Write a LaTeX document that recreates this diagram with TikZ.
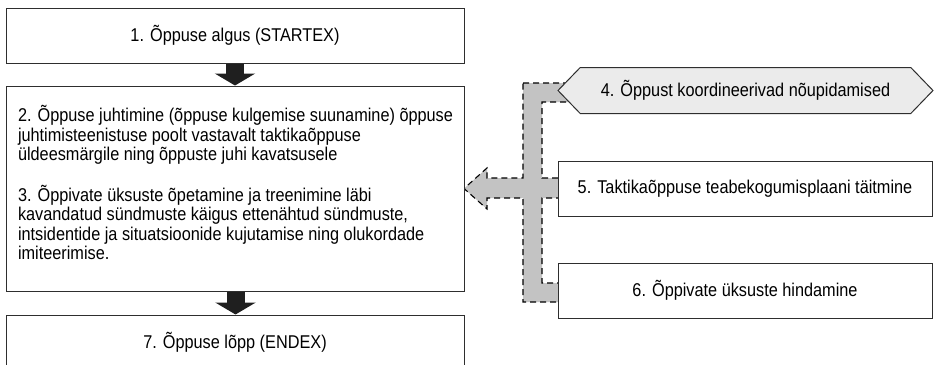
\documentclass[tikz,border=0pt]{standalone}
\usepackage{fontspec}
\setmainfont{Liberation Sans}[FakeStretch=0.88]
\usetikzlibrary{shapes.symbols, arrows.meta}
\definecolor{boxline}{HTML}{2E2E2E}
\definecolor{hexfill}{HTML}{EBEBEB}
\definecolor{linkfill}{HTML}{C3C3C3}
\tikzstyle{box}=[draw=boxline, line width=1pt, fill=white, inner sep=0pt, font=\fontsize{18.5}{19.5}\selectfont]
\tikzstyle{phase}=[box, minimum width=458pt, minimum height=55pt]
\tikzstyle{task}=[box, minimum width=374pt, minimum height=55pt]
\tikzstyle{flow}=[line width=18pt, draw=black!88, -{Triangle[width=40pt, length=12pt]}]

\begin{document}
\begin{tikzpicture}[x=1pt, y=-1pt]
\useasboundingbox (0,0) rectangle (934,364);
% Grey link
    \draw[fill=linkfill, line width=1.1pt, dash pattern=on 6pt off 4pt]
        (523,83) -- (570,83) -- (570,102) -- (542,102) -- (542,178) -- (562,178) -- (562,198)
        -- (542,198) -- (542,283) -- (562,283) -- (562,302) -- (523,302) -- (523,198)
        -- (487,198) -- (487,209) -- (464,188.5) -- (487,168) -- (487,178) -- (523,178) -- cycle;
% Main steps
    \node[phase] (start) at (235,35.5) {1. Õppuse algus (STARTEX)};
    \node[phase, minimum height=205pt, align=left] (lead) at (235.5,188.5)
        {2. Õppuse juhtimine (õppuse kulgemise suunamine) õppuse\\
         juhtimisteenistuse poolt vastavalt taktikaõppuse\\
         üldeesmärgile ning õppuste juhi kavatsusele\\[19.5pt]
         3. Õppivate üksuste õpetamine ja treenimine läbi\\
         kavandatud sündmuste käigus ettenähtud sündmuste,\\
         intsidentide ja situatsioonide kujutamise ning olukordade\\
         imiteerimise.\\[-7.5pt]\mbox{}};
    \node[phase, minimum height=54pt] (finish) at (235,342) {7. Õppuse lõpp (ENDEX)};
% Side tasks
    \node[box, signal, signal to=west and east, signal pointer angle=92, fill=hexfill,
        minimum width=375pt, minimum height=46pt] (meeting) at (745.5,90.5)
        {4. Õppust koordineerivad nõupidamised};
    \node[task] (collect) at (745,188.5) {5. Taktikaõppuse teabekogumisplaani täitmine};
    \node[task] (assess) at (745,290.5) {6. Õppivate üksuste hindamine};
% Flow
    \draw[flow] (start.south) -- (start.south |- lead.north);
    \draw[flow] (lead.south) -- (lead.south |- finish.north);
\end{tikzpicture}
\end{document}
